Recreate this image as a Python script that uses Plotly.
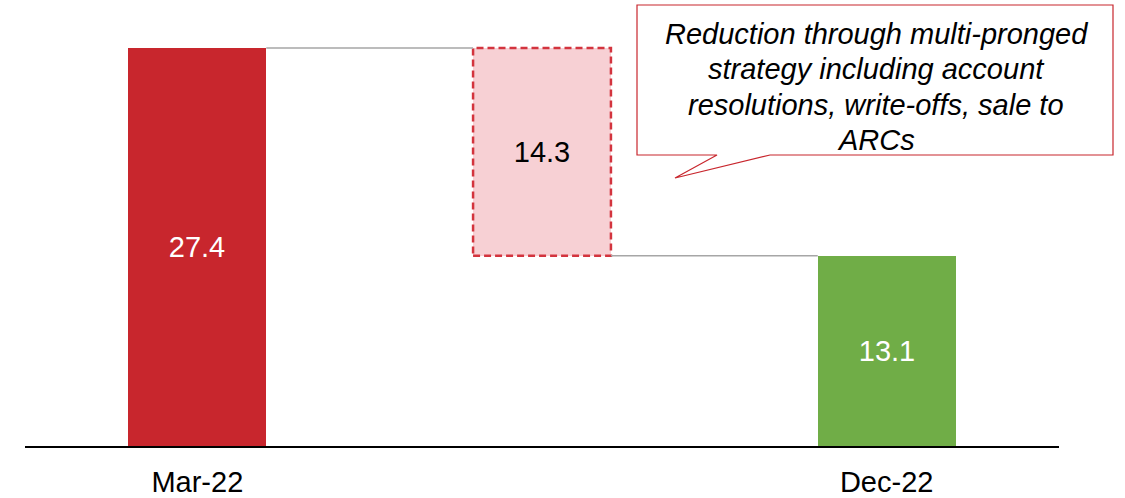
import plotly.graph_objects as go

# Waterfall values
categories = ["Mar-22", "", "Dec-22"]
start_value = 27.4
reduction = 14.3
end_value = 13.1

x_pos = [0, 1, 2]
bar_heights = [start_value, reduction, end_value]
bar_bases = [0, start_value - reduction, 0]
bar_colors = ["#C8262D", "#F7D0D4", "#70AD47"]
label_colors = ["white", "black", "white"]
bar_width = 0.4

callout_lines = [
    "Reduction through multi-pronged",
    "strategy including account",
    "resolutions, write-offs, sale to",
    "ARCs",
]

FONT = "Liberation Sans, Arial, sans-serif"
W, H = 1125, 498
L, R, T, B = 25, 66, 0, 52
plot_w, plot_h = W - L - R, H - T - B


def px_to_paper(px, py):
    return (px - L) / plot_w, (H - B - py) / plot_h


fig = go.Figure()
fig.add_trace(go.Bar(
    x=x_pos,
    y=bar_heights,
    base=bar_bases,
    width=bar_width,
    marker=dict(color=bar_colors, line=dict(width=0)),
    text=[f"{v:.1f}" for v in bar_heights],
    textposition="inside",
    insidetextanchor="middle",
    textangle=0,
    textfont=dict(family=FONT, size=29, color=label_colors),
    hoverinfo="skip",
))

shapes = []
# dashed outline of the reduction bar
shapes.append(dict(type="rect", xref="x", yref="y",
                   x0=x_pos[1] - bar_width / 2, x1=x_pos[1] + bar_width / 2,
                   y0=bar_bases[1], y1=bar_bases[1] + bar_heights[1],
                   line=dict(color="#D3343E", width=2.5, dash="7px,4px"),
                   fillcolor="rgba(0,0,0,0)"))
# connectors between bars
shapes.append(dict(type="line", xref="x", yref="y",
                   x0=x_pos[0] + bar_width / 2, x1=x_pos[1] - bar_width / 2,
                   y0=start_value, y1=start_value,
                   line=dict(color="#A6A6A6", width=1.5)))
shapes.append(dict(type="line", xref="x", yref="y",
                   x0=x_pos[1] + bar_width / 2, x1=x_pos[2] - bar_width / 2,
                   y0=end_value, y1=end_value,
                   line=dict(color="#A6A6A6", width=1.5)))

# callout box with pointer
callout_pts = [(637, 5), (1113, 5), (1113, 155), (770, 155), (675, 178), (717, 155), (637, 155)]
path = ""
for i, (px, py) in enumerate(callout_pts):
    xp, yp = px_to_paper(px, py)
    path += ("M" if i == 0 else "L") + f"{xp:.5f},{yp:.5f} "
path += "Z"
shapes.append(dict(type="path", xref="paper", yref="paper", path=path,
                   fillcolor="white", line=dict(color="#C8262D", width=1.2)))

# callout text, one line at a time for tighter line spacing
for i, line in enumerate(callout_lines):
    ax, ay = px_to_paper(876, 34 + 35.5 * i)
    fig.add_annotation(x=ax, y=ay, xref="paper", yref="paper", text=f"<i>{line}</i>",
                       showarrow=False, xanchor="center", yanchor="middle", align="center",
                       font=dict(family=FONT, size=29, color="black"))

fig.update_layout(
    width=W, height=H,
    margin=dict(l=L, r=R, t=T, b=B),
    paper_bgcolor="white", plot_bgcolor="white",
    showlegend=False,
    shapes=shapes,
    bargap=0,
    xaxis=dict(range=[-0.5, 2.5], tickvals=[0, 2], ticktext=[categories[0], categories[2]],
               showline=True, linecolor="black", linewidth=1.5, showgrid=False,
               zeroline=False, ticks="", ticklabelstandoff=9,
               tickfont=dict(family=FONT, size=29, color="black")),
    yaxis=dict(range=[0, plot_h * start_value / 398], visible=False, showgrid=False,
               zeroline=False),
)

fig.write_html("out.html")
